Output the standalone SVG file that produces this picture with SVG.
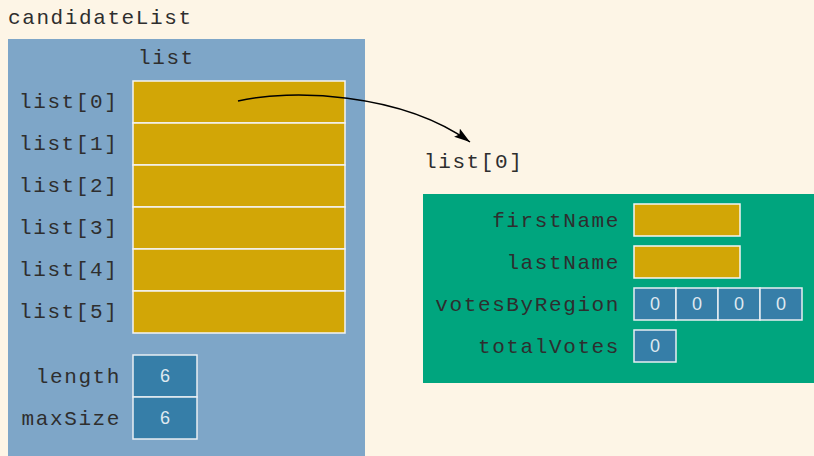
<svg xmlns="http://www.w3.org/2000/svg" width="814" height="456" viewBox="0 0 814 456">
<defs>
<style>
.lbl{font-family:"Liberation Mono","DejaVu Sans Mono",monospace;font-size:21px;letter-spacing:1.6px;fill:#2e2e2e}
.r{text-anchor:end}
.gold{fill:#d2a606;stroke:#f4f4f4;stroke-width:1.5}
.blue{fill:#367ea8;stroke:#e8eef2;stroke-width:1.5}
.num{font-family:"Liberation Sans","DejaVu Sans",sans-serif;font-size:18px;fill:#dfe9f0;text-anchor:middle}
</style>
<marker id="ah" viewBox="0 0 16 10" refX="16" refY="5" markerWidth="16" markerHeight="10" markerUnits="userSpaceOnUse" orient="auto">
<path d="M0,0 L16,5 L0,10 L3,5 z" fill="#000"/>
</marker>
</defs>
<rect x="0" y="0" width="814" height="456" fill="#fdf5e6"/>
<text class="lbl" x="8" y="24">candidateList</text>
<g id="candidateList">
<rect x="8" y="39" width="357" height="417" fill="#7ea6c8"/>
<text class="lbl" x="138" y="64">list</text>
</g>
<g id="list0"><rect class="gold" x="133" y="81" width="212" height="42"/><text class="lbl" x="19" y="108">list[0]</text></g>
<g id="list1"><rect class="gold" x="133" y="123" width="212" height="42"/><text class="lbl" x="19" y="150">list[1]</text></g>
<g id="list2"><rect class="gold" x="133" y="165" width="212" height="42"/><text class="lbl" x="19" y="192">list[2]</text></g>
<g id="list3"><rect class="gold" x="133" y="207" width="212" height="42"/><text class="lbl" x="19" y="234">list[3]</text></g>
<g id="list4"><rect class="gold" x="133" y="249" width="212" height="42"/><text class="lbl" x="19" y="276">list[4]</text></g>
<g id="list5"><rect class="gold" x="133" y="291" width="212" height="42"/><text class="lbl" x="19" y="318">list[5]</text></g>
<g id="length"><rect class="blue" x="133" y="355" width="64" height="42"/><text class="lbl r" x="121" y="383">length</text><text class="num" x="165" y="382">6</text></g>
<g id="maxSize"><rect class="blue" x="133" y="397" width="64" height="42"/><text class="lbl r" x="121" y="425">maxSize</text><text class="num" x="165" y="424">6</text></g>
<text class="lbl" x="424" y="168">list[0]</text>
<g id="record">
<rect x="423" y="194" width="391" height="189" fill="#00a57e"/>
</g>
<g id="firstName"><rect class="gold" x="634" y="204" width="106" height="32"/><text class="lbl r" x="620" y="227">firstName</text></g>
<g id="lastName"><rect class="gold" x="634" y="246" width="106" height="32"/><text class="lbl r" x="620" y="269">lastName</text></g>
<g id="votesByRegion">
<rect class="blue" x="634" y="288" width="42" height="32"/>
<rect class="blue" x="676" y="288" width="42" height="32"/>
<rect class="blue" x="718" y="288" width="42" height="32"/>
<rect class="blue" x="760" y="288" width="42" height="32"/>
<text class="num" x="655" y="310">0</text><text class="num" x="697" y="310">0</text><text class="num" x="739" y="310">0</text><text class="num" x="781" y="310">0</text>
<text class="lbl r" x="620" y="311">votesByRegion</text>
</g>
<g id="totalVotes"><rect class="blue" x="634" y="330" width="42" height="32"/><text class="num" x="655" y="352">0</text><text class="lbl r" x="620" y="353">totalVotes</text></g>
<g id="connectors">
<path d="M238,101 C290,89 400,92 470,142" fill="none" stroke="#000" stroke-width="1.5" marker-end="url(#ah)"/>
</g>
</svg>
